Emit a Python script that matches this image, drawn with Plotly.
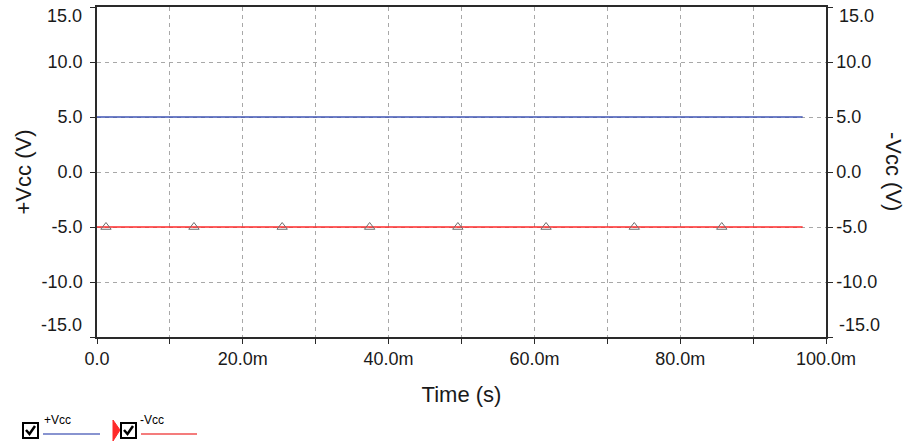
import plotly.graph_objects as go

# ---- data ----
time_s = [0.0, 0.0968]                 # simulation time span (s)
vcc_pos = [5.0, 5.0]                   # +Vcc (V)
vcc_neg = [-5.0, -5.0]                 # -Vcc (V)
marker_time_s = [0.00123, 0.0133, 0.0254, 0.0374, 0.0495, 0.0616, 0.0737, 0.0857]
marker_vcc_neg = [-5.0, -5.0, -5.0, -5.0, -5.0, -5.0, -5.0, -5.0]

x_tickvals = [0.0, 0.02, 0.04, 0.06, 0.08, 0.1]
x_ticktext = ["0.0", "20.0m", "40.0m", "60.0m", "80.0m", "100.0m"]
y_tickvals = [15, 10, 5, 0, -5, -10, -15]
y_ticktext = ["", "10.0", "5.0", "0.0", "-5.0", "-10.0", ""]
y_edge_text = ["15.0", "-15.0"]
y_edge_pos = [14.2, -13.9]             # edge labels sit inside the frame

W, H = 911, 444
L, R, T, B = 97, 85, 7, 107
PW, PH = W - L - R, H - T - B

FONT = "Liberation Sans, Arial, sans-serif"
BLUE = "#3F55B5"
RED = "#FF2A2A"
GRID = "#A8A8A8"
AX = "#2A2A2A"
TXT = "#1A1A1A"


def px(x):
    return (x - L) / PW


def py(y):
    return (H - B - y) / PH


fig = go.Figure()
fig.add_trace(go.Scatter(x=time_s, y=vcc_pos, mode="lines", name="+Vcc",
                         line=dict(color=BLUE, width=1.5), yaxis="y"))
fig.add_trace(go.Scatter(x=time_s, y=vcc_neg, mode="lines", name="-Vcc",
                         line=dict(color=RED, width=1.5), yaxis="y2"))
fig.add_trace(go.Scatter(x=marker_time_s, y=marker_vcc_neg, mode="markers", name="-Vcc markers",
                         marker=dict(symbol="triangle-up-open", size=9, color="#6E6E6E",
                                     line=dict(width=1, color="#6E6E6E")), yaxis="y2"))

axis_font = dict(family=FONT, size=18, color=TXT)
title_font = dict(family=FONT, size=22, color=TXT)
fig.update_layout(
    width=W, height=H,
    margin=dict(l=L, r=R, t=T, b=B, autoexpand=False),
    paper_bgcolor="white", plot_bgcolor="white",
    showlegend=False,
    font=dict(family=FONT, size=18, color=TXT),
    xaxis=dict(range=[0, 0.1], tickvals=x_tickvals, ticktext=x_ticktext,
               showgrid=True, gridcolor=GRID, griddash="4px,4px", gridwidth=1,
               ticks="outside", ticklen=5, tickcolor=AX, tickwidth=1,
               minor=dict(dtick=0.01, tick0=0, ticks="outside", ticklen=5, tickcolor=AX,
                          showgrid=True, gridcolor=GRID, griddash="4px,4px", gridwidth=1),
               showline=True, linecolor=AX, linewidth=1.5, mirror=True,
               zeroline=False, tickfont=axis_font, automargin=False,
               title=dict(text="Time (s)", font=title_font, standoff=18)),
    yaxis=dict(range=[-15, 15], tickvals=y_tickvals, ticktext=y_ticktext,
               showgrid=True, gridcolor=GRID, griddash="4px,4px", gridwidth=1,
               ticks="outside", ticklen=5, tickcolor=AX, tickwidth=1, ticklabelstandoff=4,
               showline=True, linecolor=AX, linewidth=1.5, zeroline=False,
               tickfont=axis_font, automargin=False,
               title=dict(text="+Vcc (V)", font=title_font, standoff=4)),
    yaxis2=dict(range=[-15, 15], tickvals=y_tickvals, ticktext=y_ticktext,
                overlaying="y", side="right", showgrid=False,
                ticks="outside", ticklen=5, tickcolor=AX, tickwidth=1,
                showline=True, linecolor=AX, linewidth=1.5, zeroline=False,
                tickfont=axis_font, automargin=False),
)

shapes = []
annots = []

# right axis title reads top-to-bottom in the reference
annots.append(dict(xref="paper", yref="paper", x=px(894), y=py(171), text="-Vcc (V)",
                   textangle=90, showarrow=False, xanchor="center", yanchor="middle",
                   font=title_font))

# edge tick labels (15.0 / -15.0) nudged inside, as in the reference
for txt, pos in zip(y_edge_text, y_edge_pos):
    annots.append(dict(xref="paper", yref="y", x=px(84), y=pos, text=txt, showarrow=False,
                       xanchor="right", yanchor="middle", font=axis_font))
    annots.append(dict(xref="paper", yref="y", x=px(837), y=pos, text=txt, showarrow=False,
                       xanchor="left", yanchor="middle", font=axis_font))


# ---- custom legend (bottom-left) ----
def checkbox(x0, y0, size=15):
    shapes.append(dict(type="rect", xref="paper", yref="paper",
                       x0=px(x0), x1=px(x0 + size), y0=py(y0 + size), y1=py(y0),
                       line=dict(color="black", width=2), fillcolor="white"))
    shapes.append(dict(type="path", xref="paper", yref="paper",
                       path=f"M {px(x0+3)} {py(y0+7)} L {px(x0+6.5)} {py(y0+11)} L {px(x0+12)} {py(y0+3)}",
                       line=dict(color="black", width=2.5)))


checkbox(23, 423)
shapes.append(dict(type="line", xref="paper", yref="paper",
                   x0=px(43), x1=px(100), y0=py(434), y1=py(434),
                   line=dict(color="#6070C0", width=1.5)))
annots.append(dict(xref="paper", yref="paper", x=px(42), y=py(429), text="+Vcc",
                   showarrow=False, xanchor="left", yanchor="bottom",
                   font=dict(family=FONT, size=12, color="black")))

# selection indicator
shapes.append(dict(type="path", xref="paper", yref="paper",
                   path=f"M {px(113)} {py(420)} L {px(120)} {py(430)} L {px(113)} {py(441)} Z",
                   line=dict(color=RED, width=1), fillcolor=RED))
checkbox(121, 423)
shapes.append(dict(type="line", xref="paper", yref="paper",
                   x0=px(141), x1=px(197), y0=py(434), y1=py(434),
                   line=dict(color="#F05050", width=1.5)))
annots.append(dict(xref="paper", yref="paper", x=px(138), y=py(429), text="-Vcc",
                   showarrow=False, xanchor="left", yanchor="bottom",
                   font=dict(family=FONT, size=12, color="black")))

fig.update_layout(shapes=shapes, annotations=annots)

fig.write_html("out.html", config={"displayModeBar": False},
               post_script="document.body.style.margin='0';document.body.style.overflow='hidden';")
